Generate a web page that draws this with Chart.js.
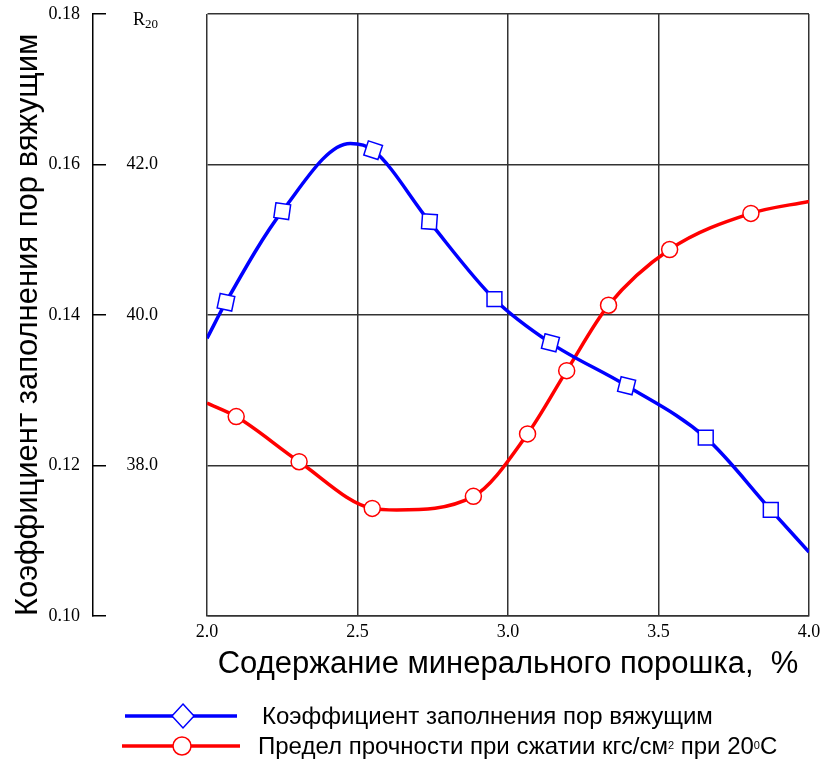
<!DOCTYPE html>
<html><head><meta charset="utf-8">
<script src="https://cdn.jsdelivr.net/npm/chart.js@4"></script>
<style>
html,body{margin:0;padding:0;background:#fff;}
#wrap{position:relative;width:822px;height:760px;overflow:hidden;}
#c{position:absolute;left:0;top:0;}
.lg{position:absolute;font-family:"Liberation Sans",Arial,sans-serif;font-size:24px;line-height:26px;color:#000;white-space:nowrap;}
.lg sup{font-size:11px;vertical-align:top;position:relative;top:-1px;}
#r20{position:absolute;left:133px;top:9px;font-family:"Liberation Serif",serif;font-size:18px;line-height:20px;color:#000;}
#r20 sub{font-size:13px;vertical-align:baseline;position:relative;top:3px;}
</style></head><body>
<div id="wrap">
<canvas id="c" width="822" height="760"></canvas>
<div id="r20">R<sub>20</sub></div>
<svg style="position:absolute;left:0;top:690px" width="300" height="70">
  <line x1="125" y1="26" x2="237" y2="26" stroke="#0000ff" stroke-width="3.5"/>
  <polygon points="183,14 194,26 183,38 172,26" fill="#fff" stroke="#0000ff" stroke-width="1.5"/>
  <line x1="122" y1="56" x2="240" y2="56" stroke="#ff0000" stroke-width="3.5"/>
  <circle cx="182" cy="56" r="9" fill="#fff" stroke="#ff0000" stroke-width="1.5"/>
</svg>
<div class="lg" style="left:262px;top:703px">Коэффициент заполнения пор вяжущим</div>
<div class="lg" style="left:258px;top:733px">Предел прочности при сжатии кгс/см<sup>2</sup> при 20<sup>0</sup>С</div>
</div>
<script>
// ---- data ----
const blueLabel = "Коэффициент заполнения пор вяжущим";
const blueX = [2.0, 2.063, 2.25, 2.476, 2.552, 2.739, 2.955, 3.141, 3.394, 3.657, 3.873, 4.0];
const blueY = [0.1369, 0.1417, 0.1538, 0.1628, 0.1619, 0.1524, 0.1421, 0.1363, 0.1306, 0.1237, 0.1141, 0.1085];
const blueMarker = [false, true, true, false, true, true, true, true, true, true, true, false];
const blueRotation = [0, 12, 8, 0, 18, 4, 0, 14, 14, 0, 0, 0];

const redLabel = "Предел прочности при сжатии кгс/см² при 20°С";
const redX = [2.0, 2.097, 2.306, 2.549, 2.63, 2.885, 3.065, 3.195, 3.334, 3.537, 3.807, 4.0];
const redY = [38.83, 38.65, 38.05, 37.43, 37.41, 37.59, 38.42, 39.26, 40.13, 40.87, 41.35, 41.51];
const redMarker = [false, true, true, true, false, true, true, true, true, true, true, false];

const xTicks = [2.0, 2.5, 3.0, 3.5, 4.0];
const kTicks = [0.10, 0.12, 0.14, 0.16, 0.18];
const rTicks = [38.0, 40.0, 42.0];

const xTitle = "Содержание минерального порошка,  %";
const yTitle = "Коэффициент заполнения пор вяжущим";

Chart.defaults.font.family = "'Liberation Sans', Arial, sans-serif";
const tickFont = {family: "'Liberation Serif', 'Times New Roman', serif", size: 18};

function fixVertical(width) {
  return s => { s.width = width; s.paddingTop = 0; s.paddingBottom = 0; };
}

new Chart(document.getElementById('c'), {
  type: 'line',
  data: {
    datasets: [
      {
        label: blueLabel,
        data: blueX.map((x, i) => ({x: x, y: blueY[i]})),
        xAxisID: 'x',
        yAxisID: 'y',
        borderColor: '#0000ff',
        borderWidth: 3.5,
        pointStyle: 'rect',
        pointRadius: blueMarker.map(m => m ? 10.5 : 0),
        pointRotation: blueRotation,
        pointBackgroundColor: '#ffffff',
        pointBorderColor: '#0000ff',
        pointBorderWidth: 1.5,
        cubicInterpolationMode: 'monotone',
        fill: false
      },
      {
        label: redLabel,
        data: redX.map((x, i) => ({x: x, y: redY[i]})),
        xAxisID: 'x',
        yAxisID: 'yR',
        borderColor: '#ff0000',
        borderWidth: 3.5,
        pointStyle: 'circle',
        pointRadius: redMarker.map(m => m ? 8 : 0),
        pointBackgroundColor: '#ffffff',
        pointBorderColor: '#ff0000',
        pointBorderWidth: 1.5,
        cubicInterpolationMode: 'monotone',
        fill: false
      }
    ]
  },
  options: {
    responsive: false,
    animation: false,
    events: [],
    layout: {padding: {top: 14, right: 13, bottom: 74, left: 0}},
    plugins: {legend: {display: false}, tooltip: {enabled: false}},
    scales: {
      x: {
        type: 'linear', axis: 'x', position: 'bottom', min: xTicks[0], max: xTicks[xTicks.length - 1],
        afterBuildTicks: s => { s.ticks = xTicks.map(v => ({value: v})); },
        ticks: {callback: v => Number(v).toFixed(1), font: tickFont, color: '#000', padding: 5, maxRotation: 0},
        grid: {color: '#333', lineWidth: 1.5, drawTicks: false},
        border: {display: true, color: '#333', width: 1.5},
        title: {display: true, text: xTitle, color: '#000', font: {size: 31}, padding: {top: 0, bottom: 3}},
        afterFit: s => { s.height = 70; s.paddingLeft = 0; s.paddingRight = 0; }
      },
      y: {
        type: 'linear', axis: 'y', position: 'left', weight: 2,
        min: kTicks[0], max: kTicks[kTicks.length - 1],
        afterBuildTicks: s => { s.ticks = kTicks.map(v => ({value: v})); },
        ticks: {callback: v => Number(v).toFixed(2), font: tickFont, color: '#000', padding: 26},
        grid: {color: '#333', lineWidth: 1.5, drawTicks: true, tickLength: -13, tickColor: '#000', tickWidth: 1.5},
        border: {display: true, color: '#000', width: 1.5},
        title: {display: true, text: yTitle, color: '#000', align: 'start', font: {size: 31}, padding: {top: 10, bottom: 0}},
        afterFit: fixVertical(93)
      },
      yR: {
        type: 'linear', axis: 'y', position: 'left', weight: 1,
        min: 36, max: 44,
        afterBuildTicks: s => { s.ticks = rTicks.map(v => ({value: v})); },
        ticks: {callback: v => Number(v).toFixed(1), font: tickFont, color: '#000', padding: 49},
        grid: {display: false, drawTicks: false},
        border: {display: false},
        afterFit: fixVertical(114)
      }
    }
  }
});
</script>
</body></html>
